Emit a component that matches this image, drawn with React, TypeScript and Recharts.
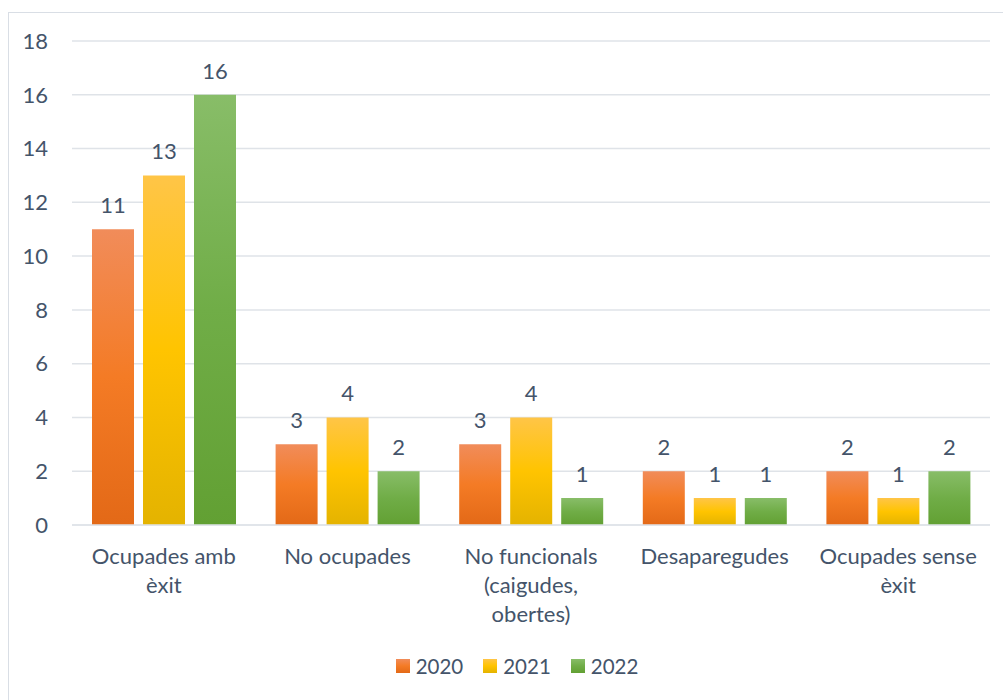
import { BarChart, Bar, XAxis, YAxis, CartesianGrid, Legend, LabelList } from 'recharts'

const categories = ['Ocupades amb èxit', 'No ocupades', 'No funcionals (caigudes, obertes)', 'Desaparegudes', 'Ocupades sense èxit']
const categoryLines = [['Ocupades amb', 'èxit'], ['No ocupades'], ['No funcionals', '(caigudes,', 'obertes)'], ['Desaparegudes'], ['Ocupades sense', 'èxit']]
const values2020 = [11, 3, 3, 2, 2]
const values2021 = [13, 4, 4, 1, 1]
const values2022 = [16, 2, 1, 1, 2]
const yTicks = [0, 2, 4, 6, 8, 10, 12, 14, 16, 18]

const data = categories.map((name, i) => ({
  name,
  y2020: values2020[i],
  y2021: values2021[i],
  y2022: values2022[i],
}))

const series = [
  { key: 'y2020', label: '2020', grad: 'gOrange', stops: ['#F18C5A', '#F47B25', '#E36917'] },
  { key: 'y2021', label: '2021', grad: 'gYellow', stops: ['#FFC547', '#FFC400', '#E4B300'] },
  { key: 'y2022', label: '2022', grad: 'gGreen', stops: ['#88BD68', '#70AD47', '#62A033'] },
]

const FONT = 'Lato, sans-serif'
const TEXT = '#44546A'

// eslint-disable-next-line @typescript-eslint/no-explicit-any
function CategoryTick({ x, y, payload, index }: any) {
  const lines = categoryLines[index] ?? [payload.value]
  return (
    <text x={x} y={y + 39} textAnchor="middle" fill={TEXT} fontSize={22} fontFamily={FONT}>
      {lines.map((l: string, i: number) => (
        <tspan key={i} x={x} dy={i === 0 ? 0 : 29}>
          {l}
        </tspan>
      ))}
    </text>
  )
}

function LegendContent() {
  return (
    <div
      style={{
        height: 24,
        display: 'flex',
        justifyContent: 'center',
        alignItems: 'center',
        gap: 20,
        paddingLeft: 35,
      }}
    >
      {series.map((s) => (
        <div key={s.key} style={{ display: 'flex', alignItems: 'center', gap: 6 }}>
          <svg width={14} height={14}>
            <rect width={14} height={14} fill={`url(#${s.grad})`} />
          </svg>
          <span style={{ fontFamily: FONT, fontSize: 20.5, color: TEXT }}>{s.label}</span>
        </div>
      ))}
    </div>
  )
}

export default function App() {
  return (
    <div
      style={{
        position: 'fixed',
        left: 8,
        top: 12,
        width: 1000,
        height: 700,
        border: '1px solid #D9DEE5',
        background: '#fff',
      }}
    >
      <BarChart
        width={995}
        height={688}
        data={data}
        margin={{ top: 28, right: 14, bottom: 23, left: 0 }}
        barSize={42}
        barGap={9}
      >
        <defs>
          {series.map((s) => (
            <linearGradient key={s.grad} id={s.grad} x1="0" y1="0" x2="0" y2="1">
              <stop offset="0%" stopColor={s.stops[0]} />
              <stop offset="50%" stopColor={s.stops[1]} />
              <stop offset="100%" stopColor={s.stops[2]} />
            </linearGradient>
          ))}
        </defs>
        <CartesianGrid vertical={false} stroke="#DFE3E8" strokeWidth={1.5} />
        <XAxis
          dataKey="name"
          axisLine={{ stroke: '#DFE3E8', strokeWidth: 1.5 }}
          tickLine={false}
          tickSize={0}
          tickMargin={0}
          height={129}
          interval={0}
          tick={<CategoryTick />}
        />
        <YAxis
          domain={[0, 18]}
          ticks={yTicks}
          width={63}
          axisLine={false}
          tickLine={false}
          tickSize={0}
          tickMargin={24}
          tick={{ fill: TEXT, fontSize: 22, fontFamily: FONT }}
        />
        <Legend verticalAlign="bottom" content={<LegendContent />} />
        {series.map((s) => (
          <Bar key={s.key} dataKey={s.key} name={s.label} fill={`url(#${s.grad})`} isAnimationActive={false}>
            <LabelList dataKey={s.key} position="top" offset={16} fill={TEXT} fontSize={22} fontFamily={FONT} />
          </Bar>
        ))}
      </BarChart>
    </div>
  )
}
